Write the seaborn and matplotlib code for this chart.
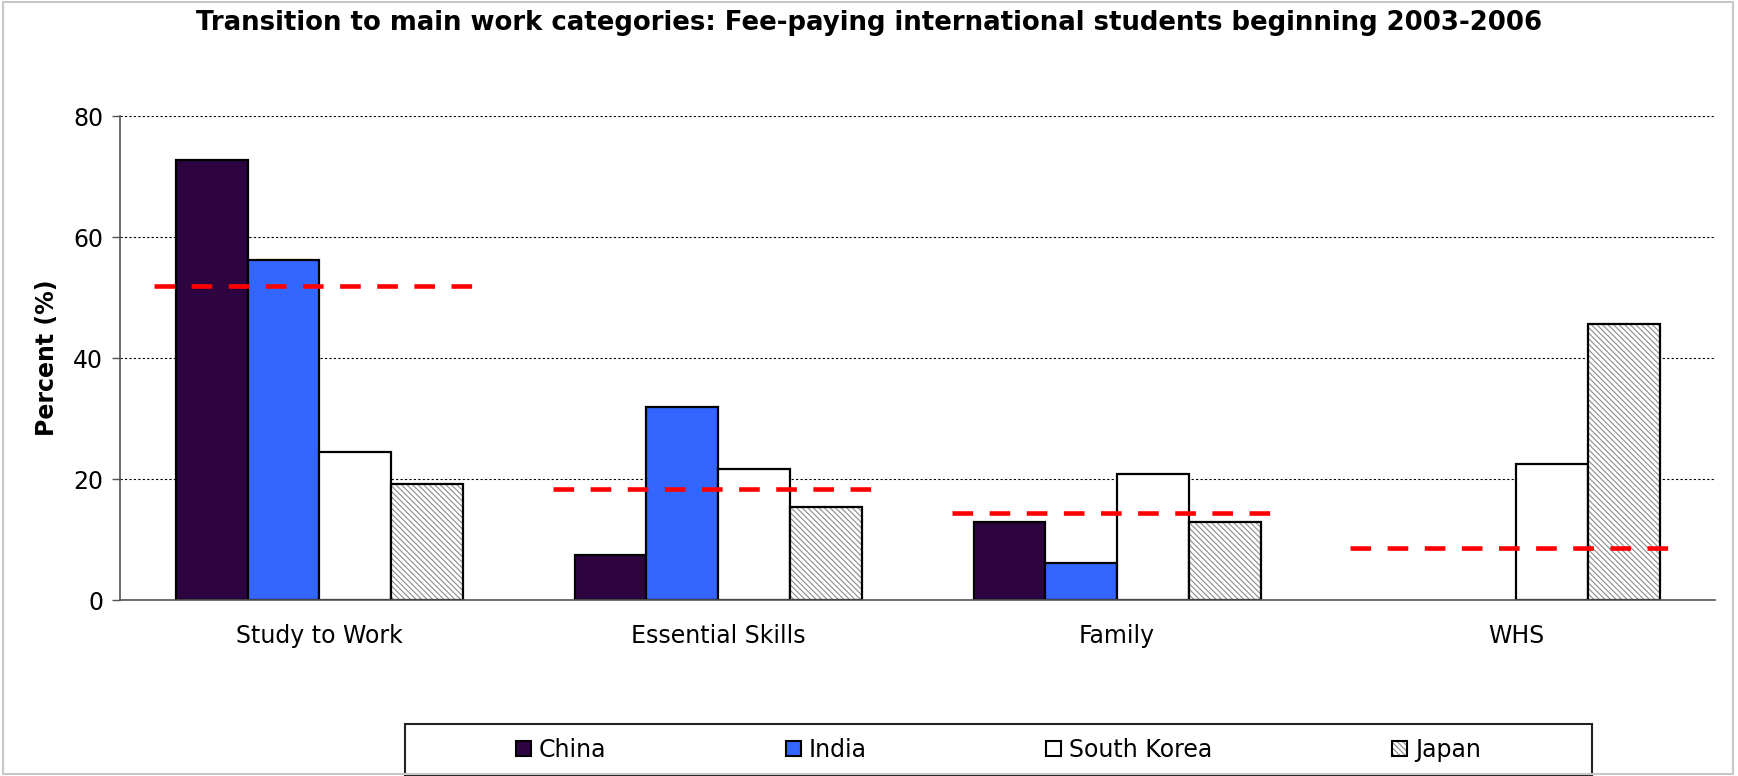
import numpy as np
import pandas as pd
import matplotlib.pyplot as plt
import seaborn as sns
from matplotlib.patches import Patch, Rectangle

# data (no China / India bar for WHS)
categories = ["Study to Work", "Essential Skills", "Family", "WHS"]
countries = ["China", "India", "South Korea", "Japan"]
china = [72.8, 7.4, 12.9, np.nan]
india = [56.2, 31.9, 6.1, np.nan]
south_korea = [24.5, 21.7, 20.9, 22.4]
japan = [19.2, 15.4, 12.9, 45.7]
average = [51.9, 18.3, 14.3, 8.6]
y_ticks = [0, 20, 40, 60, 80]

colors = ["#2E0440", "#3366FF", "#FFFFFF", "#FFFFFF"]
hatch = "\\" * 6
hatch_gray = (0.55, 0.55, 0.55, 1)

sns.set_style("white")
plt.rcParams["font.family"] = ["DejaVu Sans"]
plt.rcParams["text.color"] = "black"
plt.rcParams["axes.labelcolor"] = "black"
plt.rcParams["xtick.color"] = "black"
plt.rcParams["ytick.color"] = "black"
plt.rcParams["hatch.linewidth"] = 0.8

df = pd.DataFrame({
    "category": categories * len(countries),
    "country": [c for c in countries for _ in categories],
    "value": china + india + south_korea + japan,
})

fig = plt.figure(figsize=(17.38, 7.76), dpi=100)
ax = fig.add_axes([0.069, 0.2268, 0.918, 0.6237])

sns.barplot(data=df, x="category", y="value", hue="country",
            order=categories, hue_order=countries, palette=colors,
            saturation=1, width=0.72, edgecolor="black", linewidth=1.6,
            legend=False, ax=ax)

# Japan bars: fine grey diagonal hatch
for p in ax.containers[3]:
    p.set_hatch(hatch)
    p._hatch_color = hatch_gray

# red dashed averages
x = np.arange(len(categories))
ax.hlines(average, x - 0.415, x + 0.385, colors="red", linewidth=3.3,
          linestyles=[(0, (4.5, 3.6))], zorder=5)

ax.set_xlim(-0.5, 3.5)
ax.set_ylim(0, 80)
ax.set_yticks(y_ticks)
ax.yaxis.grid(True, color="black", linestyle=(0, (2, 2)), linewidth=0.8)
ax.set_axisbelow(True)
ax.set_xlabel("")
ax.set_ylabel("Percent (%)", fontsize=17, fontweight="bold", labelpad=10)

for s in ["top", "right"]:
    ax.spines[s].set_visible(False)
for s in ["left", "bottom"]:
    ax.spines[s].set_color("#555555")
    ax.spines[s].set_linewidth(1.2)

ax.set_xticks(np.arange(-0.5, 4, 1), minor=True)
ax.tick_params(axis="x", which="major", length=0, pad=17, labelsize=17)
ax.tick_params(axis="x", which="minor", direction="inout", length=10,
               width=1, color="#555555")
ax.tick_params(axis="y", length=6, width=1, color="#555555", labelsize=17,
               pad=6, left=True)

fig.suptitle("Transition to main work categories: Fee-paying international students beginning 2003-2006",
             fontsize=18.7, fontweight="bold", y=0.97, va="center")

# legend: items centred in a plain black box
handles = [Patch(facecolor=c, edgecolor="black", linewidth=1.5) for c in colors]
handles[3].set_hatch(hatch)
handles[3]._hatch_color = hatch_gray
fig.legend(handles, countries, loc="center", bbox_to_anchor=(0.5745, 0.034),
           ncol=4, fontsize=17, frameon=False, handlelength=0.62,
           handleheight=0.62, handletextpad=0.35, columnspacing=7.6)
fig.add_artist(Rectangle((0.233, 0.0015), 0.683, 0.0655, transform=fig.transFigure,
                         fill=False, edgecolor="#222222", linewidth=1.5))

# light grey outer border
fig.add_artist(Rectangle((0.002, 0.002), 0.995, 0.996, transform=fig.transFigure,
                         fill=False, edgecolor="#c8c8c8", linewidth=1.5))

fig.savefig("out.png", dpi=100)
